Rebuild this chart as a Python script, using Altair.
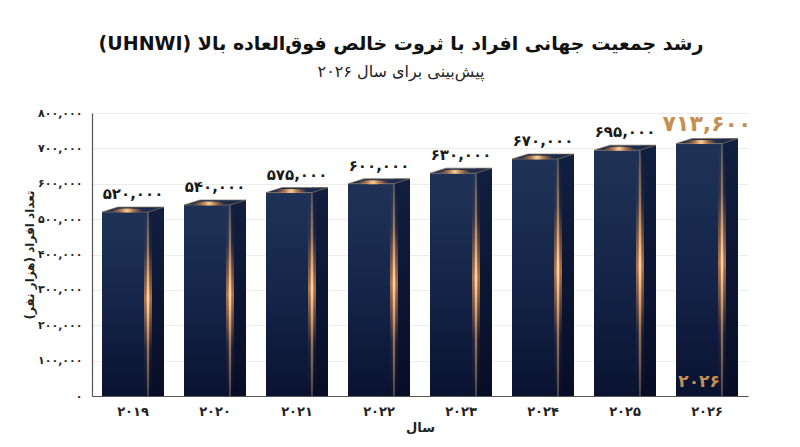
import altair as alt
import pandas as pd

years = [2019, 2020, 2021, 2022, 2023, 2024, 2025, 2026]
year_labels = ["۲۰۱۹", "۲۰۲۰", "۲۰۲۱", "۲۰۲۲", "۲۰۲۳", "۲۰۲۴", "۲۰۲۵", "۲۰۲۶"]
values = [520000, 540000, 575000, 600000, 630000, 670000, 695000, 713600]
value_labels = ["۵۲۰,۰۰۰", "۵۴۰,۰۰۰", "۵۷۵,۰۰۰", "۶۰۰,۰۰۰", "۶۳۰,۰۰۰", "۶۷۰,۰۰۰", "۶۹۵,۰۰۰", "۷۱۳,۶۰۰"]
y_ticks = [0, 100000, 200000, 300000, 400000, 500000, 600000, 700000, 800000]
y_tick_labels = ["۰", "۱۰۰,۰۰۰", "۲۰۰,۰۰۰", "۳۰۰,۰۰۰", "۴۰۰,۰۰۰", "۵۰۰,۰۰۰", "۶۰۰,۰۰۰", "۷۰۰,۰۰۰", "۸۰۰,۰۰۰"]

title_text = "رشد جمعیت جهانی افراد با ثروت خالص فوق‌العاده بالا (UHNWI)"
subtitle_text = "پیش‌بینی برای سال ۲۰۲۶"
y_title = "تعداد افراد (هزار نفر)"
x_title = "سال"


def rtl(s):
    return "\u202b" + s + "\u202c"


df = pd.DataFrame({
    "year": years,
    "ylab": year_labels,
    "value": values,
    "vlab": value_labels,
    "zero": [0] * len(years),
})

FONT = "DejaVu Sans"
GOLD = "#c48f52"

label_expr = "[" + ",".join("'" + t + "'" for t in y_tick_labels) + "][round(datum.value/100000)]"

x_enc = alt.X("ylab:N", sort=year_labels, scale=alt.Scale(paddingInner=0, paddingOuter=0),
              axis=alt.Axis(title=rtl(x_title), labelAngle=0, ticks=False, domainColor="#555555",
                            domainWidth=1.2, labelFont=FONT, labelFontWeight="bold", labelFontSize=13,
                            labelColor="#222222", labelPadding=9, titleFont=FONT, titleFontWeight="bold",
                            titleFontSize=13, titleColor="#222222", titlePadding=3, grid=False))
y_scale = alt.Scale(domain=[0, 800000], nice=False)
y_axis = alt.Axis(title=rtl(y_title), values=y_ticks, labelExpr=label_expr, ticks=False,
                  labelOverlap=False, labelBound=False, tickCount=9,
                  domainColor="#555555", domainWidth=1.2, gridColor="#ececec", gridWidth=1,
                  labelFont=FONT, labelFontWeight="bold", labelFontSize=11, labelColor="#222222",
                  labelPadding=10, titleFont=FONT, titleFontWeight="bold", titleFontSize=12,
                  titleColor="#222222", titlePadding=1)
y_enc = alt.Y("value:Q", scale=y_scale, axis=y_axis)
y_zero = alt.Y("zero:Q", scale=y_scale, axis=y_axis)

base = alt.Chart(df)

front_grad = alt.LinearGradient(gradient="linear", x1=0, x2=0, y1=0, y2=1, stops=[
    alt.GradientStop(offset=0, color="#1f3256"),
    alt.GradientStop(offset=0.5, color="#15254a"),
    alt.GradientStop(offset=1, color="#0a1230")])
side_grad = alt.LinearGradient(gradient="linear", x1=0, x2=0, y1=0, y2=1, stops=[
    alt.GradientStop(offset=0, color="#111f40"),
    alt.GradientStop(offset=1, color="#070d26")])
glow_wide = alt.LinearGradient(gradient="linear", x1=0, x2=0, y1=0, y2=1, stops=[
    alt.GradientStop(offset=0, color="rgba(230,140,70,0)"),
    alt.GradientStop(offset=0.2, color="rgba(230,140,70,0.08)"),
    alt.GradientStop(offset=0.47, color="rgba(240,150,80,0.7)"),
    alt.GradientStop(offset=0.75, color="rgba(230,140,70,0.08)"),
    alt.GradientStop(offset=1, color="rgba(230,140,70,0)")])
glow_core = alt.LinearGradient(gradient="linear", x1=0, x2=0, y1=0, y2=1, stops=[
    alt.GradientStop(offset=0, color="rgba(255,190,120,0)"),
    alt.GradientStop(offset=0.22, color="rgba(255,180,110,0.4)"),
    alt.GradientStop(offset=0.47, color="rgba(255,215,165,1)"),
    alt.GradientStop(offset=0.72, color="rgba(255,180,110,0.4)"),
    alt.GradientStop(offset=1, color="rgba(255,190,120,0)")])
top_glow = alt.RadialGradient(gradient="radial", x1=0.5, y1=0.5, r1=0, x2=0.5, y2=0.5, r2=0.5, stops=[
    alt.GradientStop(offset=0, color="rgba(255,215,160,1)"),
    alt.GradientStop(offset=0.4, color="rgba(235,150,80,0.7)"),
    alt.GradientStop(offset=1, color="rgba(200,110,50,0)")])

side = base.mark_bar(width=16, xOffset=23, yOffset=-5, fill=side_grad).encode(x=x_enc, y=y_enc, y2="zero:Q")
front = base.mark_bar(width=46, xOffset=-8, fill=front_grad).encode(x=x_enc, y=y_enc, y2="zero:Q")
edge = base.mark_bar(width=1.2, xOffset=15, color="#9c8a78", opacity=0.7).encode(x=x_enc, y=y_enc, y2="zero:Q")
edge_glow = base.mark_bar(width=8, xOffset=15, fill=glow_wide).encode(x=x_enc, y=y_enc, y2="zero:Q")
edge_core = base.mark_bar(width=2.6, xOffset=15, fill=glow_core).encode(x=x_enc, y=y_enc, y2="zero:Q")

para = "M -1 0.0806 L 0.484 0.0806 L 1 -0.0806 L -0.484 -0.0806 Z"
top = base.mark_point(shape=para, size=3844, filled=True, fill="#1b2c4e", stroke="#8a725a",
                      strokeWidth=0.7, opacity=1, yOffset=-2.5).encode(x=x_enc, y=y_enc)
ell = "M -1 0 A 1 0.12 0 1 0 1 0 A 1 0.12 0 1 0 -1 0 Z"
glow = base.mark_point(shape=ell, size=1100, filled=True, fill=top_glow, strokeWidth=0, opacity=1,
                       xOffset=-6, yOffset=-1.5).encode(x=x_enc, y=y_enc)

labels = base.mark_text(font=FONT, fontWeight="bold", fontSize=15, color="#1a1a1a", dy=-13,
                        baseline="alphabetic").encode(x=x_enc, y=y_enc, text="vlab:N").transform_filter(
    alt.datum.year != 2026)
label_last = base.mark_text(font=FONT, fontWeight="bold", fontSize=22, color=GOLD, dy=-13,
                            baseline="alphabetic").encode(x=x_enc, y=y_enc, text="vlab:N").transform_filter(
    alt.datum.year == 2026)
inner_year = base.mark_text(font=FONT, fontWeight="bold", fontSize=17, color=GOLD, dy=-9, xOffset=-8,
                            baseline="alphabetic").encode(x=x_enc, y=y_zero, text="ylab:N").transform_filter(
    alt.datum.year == 2026)

chart = alt.layer(side, front, edge, edge_glow, edge_core, top, glow, labels, label_last, inner_year).properties(
    width=656, height=283,
    autosize=alt.AutoSizeParams(type="none"),
    padding={"left": 84, "top": 105, "right": 44, "bottom": 43},
    background="white",
    title=alt.TitleParams(text=rtl(title_text), subtitle=rtl(subtitle_text), anchor="middle", dx=-19,
                          font=FONT, fontSize=19, fontWeight="bold", color="#111111",
                          subtitleFont=FONT, subtitleFontSize=16, subtitleColor="#222222",
                          subtitlePadding=10, offset=27),
).configure_view(stroke=None)

chart.save("out.html", embed_options={"renderer": "svg", "actions": False})
